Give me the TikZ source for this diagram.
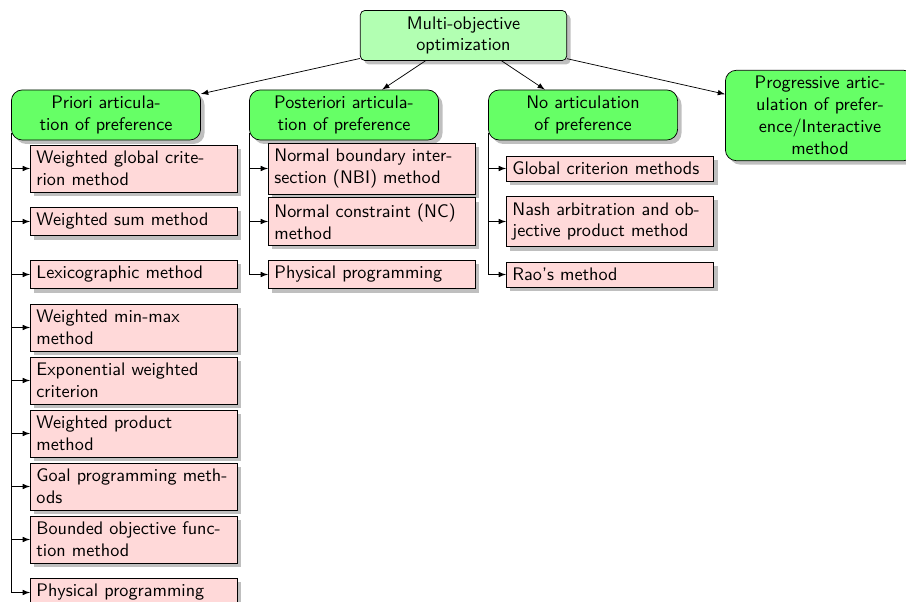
\documentclass[tikz,border=0pt]{standalone}
\usepackage{tikz}
\usetikzlibrary{arrows, shadows}
\tikzstyle{box} = [draw=black, thin, drop shadow, font=\sffamily]
\tikzstyle{root} = [box, rounded corners=2.5pt, fill=green!30, align=center, text width=106.8pt]
\tikzstyle{branch} = [box, rounded corners=6pt, fill=green!60, align=center, text width=97.4pt]
\tikzstyle{method} = [box, fill=pink!60, align=left, text width=107.3pt, anchor=west]
\tikzstyle{link} = [->,>=latex]

\begin{document}
\begin{tikzpicture}[x=0.55pt,y=-0.55pt]
\useasboundingbox (0,0) rectangle (906,602);

\node[root] (moo) at (463.5,35.5) {Multi-objective\\optimization};

\node[branch] (priori) at (106,115) {Priori articula-\\tion of preference};
\node[branch] (posteriori) at (344,115) {Posteriori articula-\\tion of preference};
\node[branch] (noart) at (583,115) {No articulation\\of preference};
\node[branch] (progressive) at (820,115.5) {Progressive artic-\\ulation of prefer-\\ence/Interactive\\method};

\draw[link] (moo) -- (priori);
\draw[link] (moo) -- (posteriori);
\draw[link] (moo) -- (noart);
\draw[link] (moo) -- (progressive);

% methods under each branch
\foreach \t [count=\i] in {{Weighted global crite-\\rion method}, {Weighted sum method},
  {Lexicographic method}, {Weighted min-max\\method}, {Exponential weighted\\criterion},
  {Weighted product\\method}, {Goal programming meth-\\ods},
  {Bounded objective func-\\tion method}, {Physical programming}}
{
\node[method] (pri\i) at (30,115.5+53*\i) {\t};
\draw[link] ([yshift=4pt]priori.south west) |- (pri\i.west);
}

\foreach \t [count=\i] in {{Normal boundary inter-\\section (NBI) method},
  {Normal constraint (NC)\\method}, {Physical programming}}
{
\node[method] (post\i) at (268,115.5+53*\i) {\t};
\draw[link] ([yshift=4pt]posteriori.south west) |- (post\i.west);
}

\foreach \t [count=\i] in {{Global criterion methods},
  {Nash arbitration and ob-\\jective product method}, {Rao\textquoteright s method}}
{
\node[method] (no\i) at (506,115.5+53*\i) {\t};
\draw[link] ([yshift=4pt]noart.south west) |- (no\i.west);
}
\end{tikzpicture}
\end{document}
